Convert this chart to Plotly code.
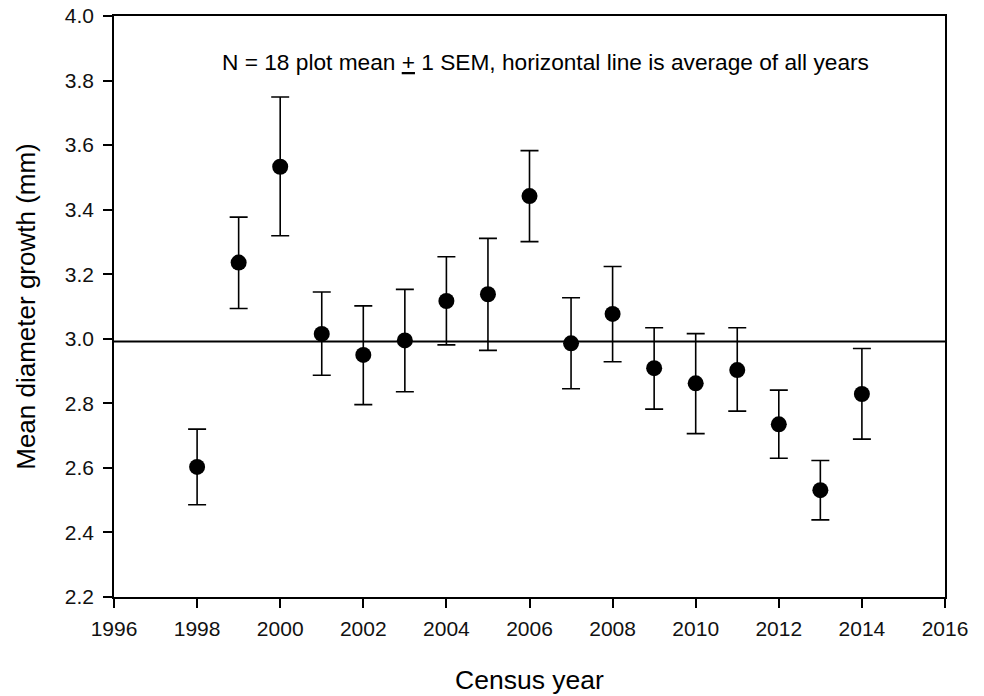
import numpy as np
import plotly.graph_objects as go

# census years and plot means (mm)
years = [1998, 1999, 2000, 2001, 2002, 2003, 2004, 2005, 2006,
         2007, 2008, 2009, 2010, 2011, 2012, 2013, 2014]
mean_growth = [2.603, 3.236, 3.533, 3.015, 2.950, 2.995, 3.117, 3.138, 3.442,
               2.986, 3.077, 2.909, 2.862, 2.903, 2.735, 2.531, 2.829]
upper_bar = [2.720, 3.377, 3.749, 3.145, 3.102, 3.153, 3.254, 3.311, 3.583,
             3.127, 3.224, 3.034, 3.016, 3.034, 2.841, 2.623, 2.970]
lower_bar = [2.486, 3.094, 3.319, 2.887, 2.796, 2.836, 2.981, 2.964, 3.301,
             2.845, 2.929, 2.782, 2.706, 2.776, 2.630, 2.439, 2.689]

x_ticks = list(range(1996, 2017, 2))
y_ticks = [2.2, 2.4, 2.6, 2.8, 3.0, 3.2, 3.4, 3.6, 3.8, 4.0]

err_plus = [u - m for u, m in zip(upper_bar, mean_growth)]
err_minus = [m - l for m, l in zip(mean_growth, lower_bar)]
overall_avg = float(np.mean(mean_growth))

font_family = "Arial, Liberation Sans, sans-serif"

fig = go.Figure()

# average of all years
fig.add_trace(go.Scatter(
    x=[1996, 2016], y=[overall_avg, overall_avg], mode="lines",
    line=dict(color="black", width=2), hoverinfo="skip", showlegend=False))

fig.add_trace(go.Scatter(
    x=years, y=mean_growth, mode="markers",
    marker=dict(color="black", size=16),
    error_y=dict(type="data", symmetric=False, array=err_plus, arrayminus=err_minus,
                 color="black", thickness=1.6, width=9),
    showlegend=False))

fig.add_annotation(
    x=0.519, y=1 - (62 - 16) / (597 - 16), xref="paper", yref="paper", yanchor="middle",
    text='N = 18 plot mean <span style="text-decoration:underline">+</span> 1 SEM, '
         'horizontal line is average of all years',
    showarrow=False, font=dict(family=font_family, size=22.7, color="black"))

axis_common = dict(showline=True, linecolor="black", linewidth=1.5, mirror=True,
                   ticks="outside", ticklen=9, tickwidth=1.5, tickcolor="black",
                   showgrid=False, zeroline=False, automargin=False,
                   tickfont=dict(family=font_family, size=21, color="#111"))

fig.update_xaxes(range=[1996, 2016], tickvals=x_ticks, ticklabelstandoff=3,
                 title=dict(text="Census year", standoff=31,
                            font=dict(family=font_family, size=26.5, color="black")),
                 **axis_common)
fig.update_yaxes(range=[2.2, 4.0], tickvals=y_ticks, tickformat=".1f",
                 ticklabelstandoff=5,
                 title=dict(text="Mean diameter growth (mm)", standoff=22,
                            font=dict(family=font_family, size=26, color="black")),
                 **axis_common)

fig.update_layout(
    width=984, height=696,
    margin=dict(l=114, r=39, t=16, b=99),
    plot_bgcolor="white", paper_bgcolor="white",
    font=dict(family=font_family, color="black"),
)

# drop the default 8px body margin so the figure sits at the page corner
fig.write_html("out.html", config={"displayModeBar": False},
               post_script="document.body.style.margin = '0';")
